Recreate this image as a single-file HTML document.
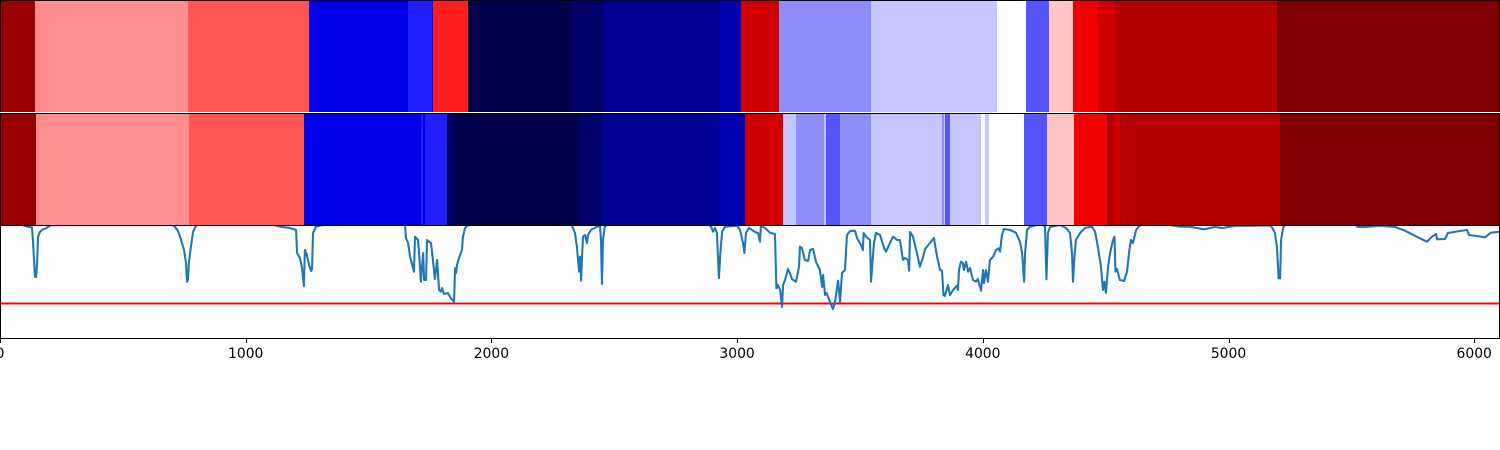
<!DOCTYPE html>
<html lang="en">
<head>
<meta charset="utf-8">
<title>State tracks and signal chart</title>
<style>
html,body{margin:0;padding:0;background:#fff;width:1500px;height:450px;overflow:hidden}
svg{display:block}
text{font-family:"DejaVu Sans","Liberation Sans",sans-serif;font-size:13.9px;fill:#000}
</style>
</head>
<body>
<svg id="chart" xmlns="http://www.w3.org/2000/svg" width="1500" height="450" viewBox="0 0 1500 450">
<rect x="0" y="0" width="1500" height="450" fill="#ffffff"/>
</svg>
<script>
const track1Starts = [0,142,765,1258,1661,1758,1762,1905,2324,2458,2930,3016,3171,3545,4058,4176,4269,4367,4469,4538,5197];
const track1States = [17,11,12,4,5,4,13,0,1,2,3,15,7,8,9,6,10,14,15,16,18];
const track2Starts = [0,147,769,1237,1713,1722,1730,1819,1844,2365,2450,2926,3032,3187,3240,3354,3362,3419,3545,3834,3842,3846,3867,3993,4009,4025,4168,4261,4371,4505,4538,4558,4571,4575,5210];
const track2States = [17,11,12,4,5,4,5,1,0,1,2,3,15,8,7,8,6,7,8,7,8,6,8,9,8,9,6,10,14,16,15,16,15,16,18];
const xTicks = [0,1000,2000,3000,4000,5000,6000];
const threshold = 34.5;
const signalX = [0,90,110,130,134,142,147,151,155,163,175,187,204,326,692,712,724,737,749,757,761,765,769,777,786,798,814,1100,1140,1180,1205,1209,1221,1229,1237,1241,1249,1258,1266,1270,1274,1286,1302,1370,1648,1652,1661,1669,1685,1689,1701,1705,1713,1722,1726,1734,1738,1746,1754,1762,1770,1779,1787,1795,1799,1807,1823,1832,1848,1852,1856,1860,1868,1880,1884,1893,1901,1933,2320,2328,2340,2348,2357,2361,2365,2369,2373,2381,2389,2393,2405,2430,2442,2446,2450,2454,2462,2483,2882,2894,2902,2910,2918,2926,2932,2939,2951,3000,3012,3024,3030,3036,3048,3061,3073,3085,3093,3097,3114,3134,3154,3160,3166,3175,3183,3187,3195,3207,3215,3223,3240,3252,3256,3264,3276,3289,3297,3309,3321,3337,3346,3350,3358,3364,3378,3390,3398,3411,3419,3427,3439,3447,3460,3480,3488,3504,3512,3515,3525,3541,3545,3557,3565,3582,3598,3606,3622,3635,3651,3663,3675,3683,3696,3700,3704,3716,3732,3744,3757,3765,3785,3801,3814,3826,3834,3840,3846,3858,3867,3879,3895,3899,3903,3911,3919,3923,3932,3940,3948,3960,3972,3980,3993,4001,4005,4013,4021,4029,4042,4054,4066,4070,4078,4086,4111,4135,4151,4160,4168,4172,4180,4192,4233,4253,4259,4265,4274,4314,4339,4355,4363,4367,4373,4379,4396,4416,4444,4457,4469,4481,4489,4495,4501,4510,4518,4530,4536,4540,4546,4558,4575,4587,4595,4603,4611,4624,4636,4660,4760,4803,4843,4900,4945,4974,5026,5169,5177,5189,5197,5204,5210,5214,5222,5230,5515,5527,5556,5617,5678,5718,5747,5779,5808,5828,5845,5849,5881,5893,5942,5971,5979,6011,6044,6068,6105];
const signalV = [114,113,111.3,110.7,98,61.3,61,75,101.3,106.3,108.7,109.7,112.5,114,114,111.3,107.3,98,88,75,56.3,58,76.3,91.3,106.3,112.3,114,114,111.3,110,108,85,80,70,52,88,83,73,67,69,105,111.3,112.5,114,114,100,95,81.3,66.3,101.3,98,88,56.3,85,58,58,98,96.3,95,78,59,78,48,46.3,50,44,45,41,36,70,65,73,80,88,101.3,110,112.3,114,114,112.3,105,91.3,66.3,81.3,57.3,81.3,101.3,103,95,103,108,111.3,112.3,98,54,98,112,114,114,111.3,106.3,110,105,60,85,106.3,111.3,112.3,108,95,85,105,110,108,106,105,96.3,112.3,110,105.3,104,49.7,53,48,31,53,58,69,65,59,56.3,71.3,91.3,90,78,77,88,89,76.3,68,51,63,43,45,36.3,29,35,57.3,36.3,65,68,103,107,107.3,100,93,88,105,101.3,98,56.3,95,105,103,90,86.3,95,101.3,98,98,78,80,78,67.3,106,101.3,85,71.3,81,89,95,100,81.3,68,67.3,43,42,53,43,48,52.3,48,68,76.3,75,68,76.3,66.3,70,58,56.3,59,47.3,68,55,68,56.3,78,81.3,88,89.7,86.3,103,109,108,105.3,96.3,85,56.3,85,108,111.3,114,112,58.7,105,111,113,110,105,85,56.3,81,98,105,110,111.3,106.3,90,71.3,48,56.3,45.3,71.3,85,98,101.3,66.3,69,58,57,66.3,85,98,95,108,112,114,113,111.3,111.3,108.7,111,110,112,112.5,110.7,105,91.3,59.7,59.7,98,110,113.5,113.5,111,111,112.3,111,107.3,103.7,99.7,96.3,101.3,104,98.7,99,105,107,108,103,102,100.7,105.3,106.3];

const svg = document.getElementById('chart');
const NS = 'http://www.w3.org/2000/svg';
const stateColors = ['#00004c','#00006a','#000094','#0000b0','#0000e8','#1e1eff','#5555ff','#8d8dff','#c5c5ff','#ffffff','#ffc5c5','#ff8d8d','#ff5555','#ff1e1e','#f00000','#d00000','#b40000','#990000','#7f0000'];
const xMax = 6105;
const yMax = 113;
function xScale(v){ return v / xMax * 1500; }
function yScale(v){ return 338 - v / yMax * 113; }
function make(tag, attrs, parent){
  const el = document.createElementNS(NS, tag);
  for (const k in attrs) el.setAttribute(k, attrs[k]);
  (parent || svg).appendChild(el);
  return el;
}
function drawTrack(starts, states, top, height, name){
  const g = make('g', {'shape-rendering':'crispEdges'});
  
  
  starts.forEach(function(s, i){
    const x0 = xScale(s);
    const x1 = i + 1 < starts.length ? xScale(starts[i + 1]) : 1500;
    const r = make('rect', {x:x0, y:top, width:x1 - x0, height:height, fill:stateColors[states[i]]}, g);
    
    
  });
}
drawTrack(track1Starts, track1States, 0, 112, 'state-track-top');
drawTrack(track2Starts, track2States, 113, 112, 'state-track-bottom');

const thresholdLine = make('line', {x1:0, x2:1500, y1:yScale(threshold), y2:yScale(threshold), stroke:'#ff0000', 'stroke-width':2.08});



const clip = make('clipPath', {id:'signal-clip'});


make('rect', {x:0, y:225, width:1500, height:113}, clip);
const points = signalX.map(function(x, i){ return xScale(x).toFixed(2) + ',' + yScale(signalV[i]).toFixed(2); }).join(' ');
const signal = make('polyline', {points:points, fill:'none', stroke:'#1f77b4', 'stroke-width':2.08, 'stroke-linejoin':'round', 'clip-path':'url(#signal-clip)'});



const frame = make('g', {'shape-rendering':'crispEdges', stroke:'#000000', 'stroke-width':1});


[[0,0.5,1500,0.5],[0,113.5,1500,113.5],[0,225.5,1500,225.5],[0,338.5,1500,338.5],[0.5,0,0.5,338],[1499.5,0,1499.5,338]].forEach(function(c){
  const l = make('line', {x1:c[0], y1:c[1], x2:c[2], y2:c[3]}, frame);
  
  
});
make('rect', {x:0, y:112, width:1500, height:1, fill:'#ffffff', stroke:'none'}, frame);

xTicks.forEach(function(t){
  const px = Math.round(xScale(t));
  const tick = make('line', {x1:px + 0.5, x2:px + 0.5, y1:338, y2:343, stroke:'#000000', 'stroke-width':1, 'shape-rendering':'crispEdges'});
  
  
  const label = make('text', {x:xScale(t), y:358, 'text-anchor':'middle'});
  label.textContent = String(t);
  
  
});
</script>
</body>
</html>
